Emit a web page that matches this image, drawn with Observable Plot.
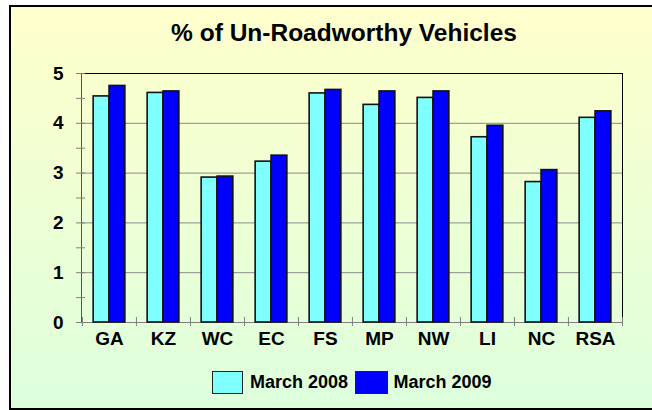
<!DOCTYPE html>
<html>
<head>
<meta charset="utf-8">
<script src="https://cdn.jsdelivr.net/npm/d3@7"></script>
<script src="https://cdn.jsdelivr.net/npm/@observablehq/plot@0.6"></script>
<style>
  html, body { margin: 0; padding: 0; width: 652px; height: 410px; overflow: hidden; background: #fff; }
  body { position: relative; font-family: "Liberation Sans", Arial, sans-serif; }
  #box { position: absolute; left: 9px; top: 5px; width: 660px; height: 405px; box-sizing: border-box;
         border: 2px solid #000; background: linear-gradient(to bottom, #FFFFCC 0%, #DDFFDD 100%); }
  #title { position: absolute; left: 0; top: 21px; width: 688px; text-align: center; font-size: 24.5px;
           line-height: 24px; font-weight: bold; color: #000; }
  #chart { position: absolute; left: 0; top: 50px; }
  #legend { position: absolute; left: 212px; top: 371px; height: 23px; display: flex; align-items: center;
            font-size: 18px; font-weight: bold; color: #000; }
  .sw { box-sizing: border-box; height: 23px; border: 1.5px solid #222; }
</style>
</head>
<body>
<div id="box"></div>
<div id="title">% of Un-Roadworthy Vehicles</div>
<div id="chart"></div>
<div id="legend"></div>
<script>
const categories = ["GA", "KZ", "WC", "EC", "FS", "MP", "NW", "LI", "NC", "RSA"];
const march2008 = [4.54, 4.61, 2.91, 3.23, 4.60, 4.37, 4.51, 3.72, 2.82, 4.11];
const march2009 = [4.75, 4.64, 2.93, 3.35, 4.67, 4.64, 4.64, 3.95, 3.06, 4.24];
const seriesNames = ["March 2008", "March 2009"];
const seriesColors = ["#80FFFF", "#0000FF"];
const yTicks = [0, 1, 2, 3, 4, 5];
const yMinorTicks = [0.5, 1.5, 2.5, 3.5, 4.5];
const gridValues = [1, 2, 3, 4];

const rows2008 = categories.map((c, i) => ({category: c, series: seriesNames[0], value: march2008[i]}));
const rows2009 = categories.map((c, i) => ({category: c, series: seriesNames[1], value: march2009[i]}));

const W = 652, H = 300;
const mL = 81, mR = 30, mT = 23, mB = 28;
const bw = (W - mL - mR) / categories.length;
const barW = bw * 0.294;
const gap = (bw - 2 * barW) / 2;
const tickGray = "#808080";

const chart = Plot.plot({
  width: W,
  height: H,
  marginLeft: mL,
  marginRight: mR,
  marginTop: mT,
  marginBottom: mB,
  style: {background: "transparent", fontFamily: "'Liberation Sans', Arial, sans-serif", fontSize: "19px", fontWeight: "bold", color: "#000"},
  x: {domain: categories, padding: 0, label: null},
  y: {domain: [0, 5], label: null},
  marks: [
    Plot.ruleY(gridValues, {stroke: "#8a8a8a", strokeWidth: 1}),
    Plot.frame({stroke: "#000", strokeWidth: 1}),
    Plot.frame({anchor: "left", stroke: "#555", strokeWidth: 1}),
    Plot.frame({anchor: "bottom", stroke: tickGray, strokeWidth: 1}),
    Plot.axisY({ticks: yTicks, tickSize: 9, dx: 4, stroke: tickGray, tickFormat: () => "", label: null}),
    Plot.axisY({ticks: yMinorTicks, tickSize: 9, dx: 4, stroke: tickGray, tickFormat: () => "", label: null}),
    Plot.axisX({tickSize: 9, stroke: tickGray, dx: -bw / 2, dy: -5, tickFormat: () => "", label: null}),
    Plot.axisX({ticks: [categories[categories.length - 1]], tickSize: 9, stroke: tickGray, dx: bw / 2, dy: -5, tickFormat: () => "", label: null}),
    Plot.barY(rows2008, {x: "category", y: "value", fill: seriesColors[0], stroke: "#111", strokeWidth: 1.6, insetLeft: gap, insetRight: gap + barW}),
    Plot.barY(rows2009, {x: "category", y: "value", fill: seriesColors[1], stroke: "#111", strokeWidth: 1.6, insetLeft: gap + barW, insetRight: gap}),
    Plot.axisY({ticks: yTicks, tickSize: 0, tickPadding: 18, label: null, tickFormat: d => String(d)}),
    Plot.axisX({tickSize: 0, tickPadding: 8.5, label: null})
  ]
});
document.getElementById("chart").appendChild(chart);

const legend = document.getElementById("legend");
const swW = [31, 33];
const gaps = [[0, 7], [7, 5.5]];
seriesNames.forEach((name, i) => {
  const sw = document.createElement("span");
  sw.className = "sw";
  sw.style.width = swW[i] + "px";
  sw.style.background = seriesColors[i];
  sw.style.marginLeft = gaps[i][0] + "px";
  sw.style.marginRight = gaps[i][1] + "px";
  legend.appendChild(sw);
  const t = document.createElement("span");
  t.textContent = name;
  legend.appendChild(t);
});
</script>
</body>
</html>
